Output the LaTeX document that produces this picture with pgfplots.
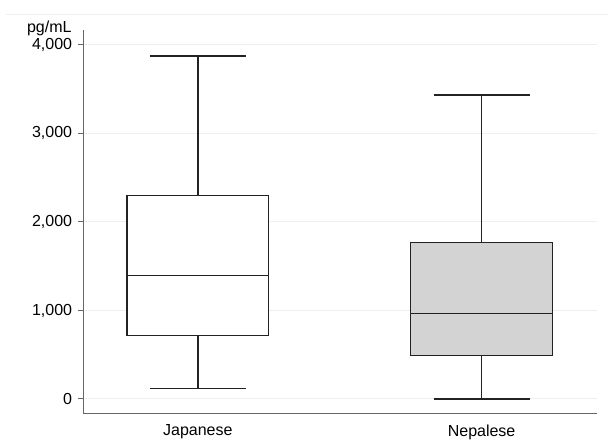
\documentclass[border=0pt]{standalone}
\usepackage{pgfplots}
\pgfplotsset{compat=1.18}
\usepgfplotslibrary{statistics}
\usepackage{fontspec}
\setmainfont{Liberation Sans}
\definecolor{axgray}{HTML}{666666}
\definecolor{gridc}{HTML}{EEEEEE}
\definecolor{boxfill}{HTML}{D3D3D3}
\definecolor{boxline}{HTML}{222222}
\begin{document}
\begin{tikzpicture}
\begin{axis}[
  scale only axis,
  width=513.7pt, height=384pt,
  xmin=0.596, xmax=2.405,
  ymin=-166, ymax=4169,
  axis x line*=bottom, axis y line*=left,
  axis line style={draw=axgray, line width=1pt},
  xtick={1,2}, xticklabels={Japanese,Nepalese},
  ytick={0,1000,2000,3000,4000},
  yticklabels={0,{1,000},{2,000},{3,000},{4,000}},
  ymajorgrids, grid style={draw=gridc, line width=1pt},
  tick align=outside,
  major tick length=5pt,
  tick style={draw=axgray, line width=1pt},
  xtick style={draw=none},
  tick label style={font=\fontsize{16}{18}\selectfont},
  yticklabel style={inner sep=0pt, anchor=east, xshift=-6pt},
  xticklabel style={inner sep=0pt, anchor=north, yshift=-6pt},
  boxplot/draw direction=y,
  boxplot/every box/.append style={line width=1.3pt, draw=boxline},
  boxplot/every median/.append style={line width=1.3pt, draw=boxline},
  boxplot/every whisker/.append style={line width=1.3pt, draw=boxline},
]
\addplot+[draw=boxline, line width=1.3pt, fill=white, mark=none,
  boxplot prepared={lower whisker=116, lower quartile=718, median=1392,
    upper quartile=2298, upper whisker=3875, draw position=1,
    box extend=0.5, whisker extend=0.338}] coordinates {};
\addplot+[draw=boxline, line width=1.3pt, fill=boxfill, mark=none,
  boxplot prepared={lower whisker=0, lower quartile=489, median=966,
    upper quartile=1767, upper whisker=3434, draw position=2,
    box extend=0.5, whisker extend=0.338}] coordinates {};
\end{axis}
\node[anchor=base east, inner sep=0pt, font=\fontsize{16}{18}\selectfont]
  at (-11.5pt,381.5pt) {pg/mL};
\pgfresetboundingbox
\draw[gridc, line width=1pt] (-77.3pt,399pt) -- (524.7pt,399pt);
\path[use as bounding box] (-83.3pt,-34pt) rectangle (524.7pt,414pt);
\end{tikzpicture}
\end{document}
